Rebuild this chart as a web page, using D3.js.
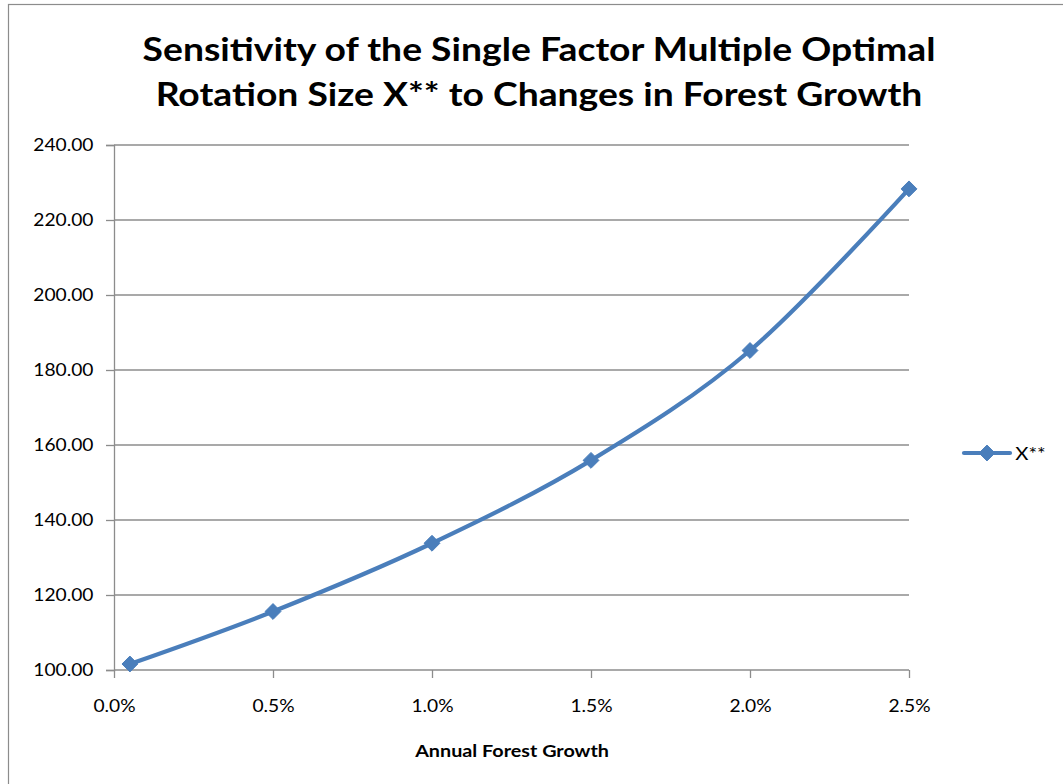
<!DOCTYPE html>
<html>
<head>
<meta charset="utf-8">
<script src="https://cdn.jsdelivr.net/npm/d3@7"></script>
<style>
  html, body { margin: 0; padding: 0; background: #fff; }
  svg { display: block; font-family: Lato, "Open Sans", sans-serif; }
  /* slightly wider lettering, scaled about each label's own centre */
  svg text { transform-box: fill-box; transform-origin: center; transform: scaleX(1.13); }
</style>
</head>
<body>
<svg id="chart" width="1063" height="784"></svg>
<script>
// Annual forest growth rates (as fractions) and the resulting optimal rotation size X**
const growthRates = [0.0005, 0.005, 0.010, 0.015, 0.020, 0.025];
const xStarStar = [101.6, 115.6, 133.8, 155.9, 185.2, 228.3];
const xTicks = [0, 0.005, 0.010, 0.015, 0.020, 0.025];
const yTicks = [100, 120, 140, 160, 180, 200, 220, 240];
const titleLines = [
  "Sensitivity of the Single Factor Multiple Optimal",
  "Rotation Size X** to Changes in Forest Growth"
];
const seriesName = "X**";
const xAxisTitle = "Annual Forest Growth";

const svg = d3.select("#chart");
const color = "#4a7ebb";
const gridColor = "#8c8c8c";

// outer chart frame
svg.append("rect")
  .attr("x", 8.5).attr("y", 4.5)
  .attr("width", 1100).attr("height", 820)
  .attr("fill", "#fff").attr("stroke", "#8c8c8c").attr("stroke-width", 1.2);

const plot = { left: 114, right: 909, top: 145, bottom: 670 };

const x = d3.scaleLinear().domain([0, 0.025]).range([plot.left, plot.right]);
const y = d3.scaleLinear().domain([100, 240]).range([plot.bottom, plot.top]);

// title
svg.append("g").selectAll("text")
  .data(titleLines)
  .join("text")
  .attr("x", 539)
  .attr("y", (d, i) => 61 + i * 45)
  .attr("text-anchor", "middle")
  .attr("font-size", 33)
  .attr("font-weight", 700)
  .attr("fill", "#000")
  .text(d => d);

// horizontal gridlines
svg.append("g").selectAll("line")
  .data(yTicks.slice(1))
  .join("line")
  .attr("x1", plot.left).attr("x2", plot.right)
  .attr("y1", d => y(d)).attr("y2", d => y(d))
  .attr("stroke", gridColor).attr("stroke-width", 1.3);

// y axis
const yAxis = svg.append("g")
  .attr("transform", `translate(${plot.left},0)`)
  .call(d3.axisLeft(y).tickValues(yTicks).tickSize(8).tickPadding(16)
    .tickFormat(d3.format(".2f")));
yAxis.select(".domain").attr("stroke", gridColor).attr("stroke-width", 1.3);
yAxis.selectAll(".tick line").attr("stroke", gridColor).attr("stroke-width", 1.3);
yAxis.selectAll("text").attr("font-size", 17).attr("fill", "#000")
  .attr("font-family", "Lato, sans-serif");

// x axis
const xAxis = svg.append("g")
  .attr("transform", `translate(0,${plot.bottom})`)
  .call(d3.axisBottom(x).tickValues(xTicks).tickSize(8).tickPadding(22)
    .tickFormat(d3.format(".1%")));
xAxis.select(".domain").attr("stroke", gridColor).attr("stroke-width", 1.3)
  .attr("d", `M${plot.left},0H${plot.right}`);
xAxis.selectAll(".tick line").attr("stroke", gridColor).attr("stroke-width", 1.3);
xAxis.selectAll("text").attr("font-size", 17).attr("fill", "#000")
  .attr("font-family", "Lato, sans-serif");

// x axis title
svg.append("text")
  .attr("x", 512).attr("y", 757)
  .attr("text-anchor", "middle")
  .attr("font-size", 17.5).attr("font-weight", 700)
  .text(xAxisTitle);

// smoothed series line
const data = growthRates.map((g, i) => ({ g, v: xStarStar[i] }));
const line = d3.line()
  .x(d => x(d.g)).y(d => y(d.v))
  .curve(d3.curveCatmullRom.alpha(0));
svg.append("path")
  .datum(data)
  .attr("d", line)
  .attr("fill", "none")
  .attr("stroke", color)
  .attr("stroke-width", 4.2)
  .attr("stroke-linejoin", "round");

// diamond markers
const diamond = d3.symbol().type(d3.symbolDiamond2).size(160);
svg.append("g").selectAll("path")
  .data(data)
  .join("path")
  .attr("transform", d => `translate(${x(d.g)},${y(d.v)})`)
  .attr("d", diamond)
  .attr("fill", color)
  .attr("stroke", color)
  .attr("stroke-width", 1)
  .attr("stroke-linejoin", "round");

// legend
const lg = svg.append("g").attr("transform", "translate(964,453)");
lg.append("line").attr("x1", 0).attr("x2", 46).attr("y1", 0).attr("y2", 0)
  .attr("stroke", color).attr("stroke-width", 4.2).attr("stroke-linecap", "round");
lg.append("path").attr("transform", "translate(23,0)")
  .attr("d", diamond).attr("fill", color).attr("stroke", color);
lg.append("text").attr("x", 53).attr("y", 7)
  .attr("font-size", 18).attr("fill", "#000")
  .text(seriesName);
</script>
</body>
</html>
